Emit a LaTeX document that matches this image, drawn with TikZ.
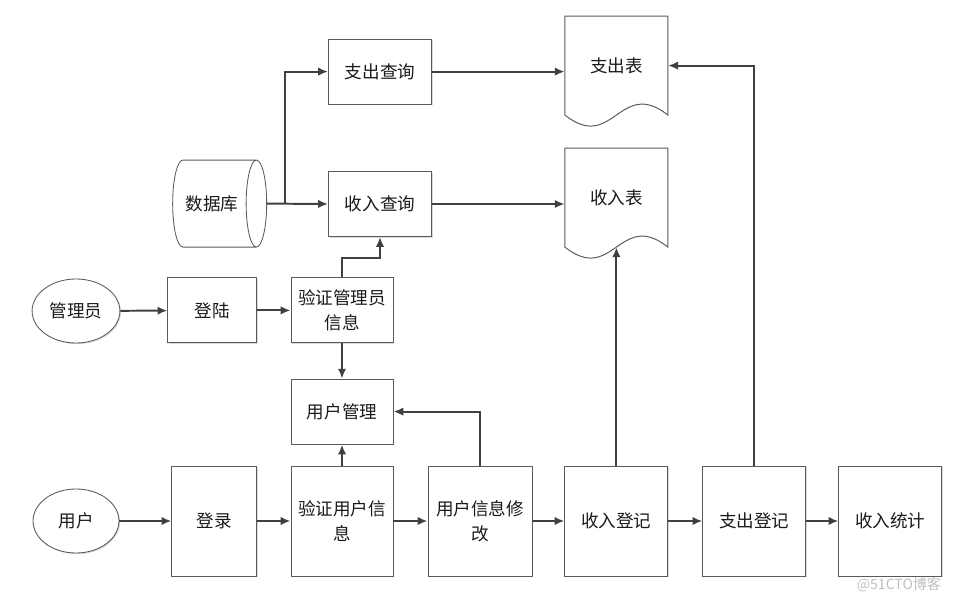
\documentclass[tikz,border=0pt]{standalone}
\usepackage{fontspec}
\setmainfont{Noto Sans CJK SC}
\usetikzlibrary{shapes.geometric,arrows.meta,shadows,calc}

\definecolor{boxgray}{HTML}{5A5A5A}
\definecolor{linegray}{HTML}{404040}
\definecolor{txt}{HTML}{1A1A1A}

\tikzset{
  box/.style={rectangle, draw=boxgray, fill=white, line width=0.7pt, text=txt,
    minimum width=2.575cm, minimum height=1.625cm, align=center,
    drop shadow={shadow xshift=0.8pt, shadow yshift=-0.8pt, opacity=0.3}},
  tallbox/.style={box, minimum height=2.75cm},
  actor/.style={ellipse, draw=boxgray, fill=white, line width=0.6pt, text=txt,
    minimum width=2.15cm, minimum height=1.6cm,
    drop shadow={shadow xshift=0.8pt, shadow yshift=-0.8pt, opacity=0.3}},
  doc/.style={rectangle, text=txt, minimum width=2.575cm, minimum height=2.475cm},
  docline/.style={draw=boxgray, fill=white, line width=0.7pt},
  flow/.style={->, draw=linegray, line width=1.4pt}
}

\begin{document}
\begin{tikzpicture}[>={Latex[length=7pt,width=6pt]}, font=\fontsize{12.5}{18}\selectfont]
\useasboundingbox (0,0) rectangle (23.9,-15.05);

% tables (document shapes)
\path
(15.41,-1.64) coordinate (zcbc)
(15.41,-4.94) coordinate (srbc);
\draw[docline] ($(zcbc)+(-1.2875,1.2375)$) -- ++(2.575,0) -- ++(0,-2.475)
  .. controls +(-1.2,0.95) and +(1.2,-0.95) .. ++(-2.575,0) -- cycle;
\draw[docline] ($(srbc)+(-1.2875,1.2375)$) -- ++(2.575,0) -- ++(0,-2.475)
  .. controls +(-1.2,0.95) and +(1.2,-0.95) .. ++(-2.575,0) -- cycle;

\path
(zcbc)  node[doc]  (zcb)  {支出表}
(srbc)  node[doc]  (srb)  {收入表}

(9.5,-1.79)   node[box]  (zccx) {支出查询}
(9.5,-5.1)    node[box]  (srcx) {收入查询}
(5.3,-5.09)   node[cylinder, draw=boxgray, fill=white, line width=0.6pt, text=txt,
                   shape aspect=0.8, minimum width=2.175cm, minimum height=2.35cm] (sjk) {数据库}

(1.9,-7.775)  node[actor] (gly)   {管理员}
(5.31,-7.76)  node[box, minimum width=2.225cm] (dl) {登陆}
(8.55,-7.76)  node[box, minimum width=2.55cm] (yzgly) {验证管理员\\信息}
(8.55,-10.29) node[box, minimum width=2.55cm] (yhgl)  {用户管理}

(1.9,-13.025)   node[actor]   (yh)   {用户}
(5.36,-13.025)  node[tallbox, minimum width=2.125cm] (dlu) {登录}
(8.55,-13.025)  node[tallbox, minimum width=2.55cm]  (yzyh) {验证用户信\\息}
(12.0,-13.025)  node[tallbox, minimum width=2.6cm]   (yhxg) {用户信息修\\改}
(15.41,-13.025) node[tallbox] (srdj) {收入登记}
(18.86,-13.025) node[tallbox] (zcdj) {支出登记}
(22.26,-13.025) node[tallbox] (srtj) {收入统计};

\coordinate (fork) at (7.125,-5.09);
\coordinate (bend) at (8.55,-6.45);

% query branch
\draw[flow] (sjk.east) -- (srcx.west);
\draw[flow] (fork) |- (zccx.west);
\draw[flow] (zccx.east) -- (zccx.east -| zcb.west);
\draw[flow] (srcx.east) -- (srcx.east -| srb.west);

% administrator
\draw[flow] (gly) -- (dl);
\draw[flow] (dl) -- (yzgly);
\draw[flow] (yzgly.north) -- (bend) -| (srcx.south);
\draw[flow] (yzgly) -- (yhgl);

% user
\draw[flow] (yh) -- (dlu);
\draw[flow] (dlu) -- (yzyh);
\draw[flow] (yzyh) -- (yhxg);
\draw[flow] (yhxg) -- (srdj);
\draw[flow] (srdj) -- (zcdj);
\draw[flow] (zcdj) -- (srtj);
\draw[flow] (yzyh) -- (yhgl);
\draw[flow] (yhxg.north) |- (yhgl.east);
\draw[flow] (srdj.north) -- (srb.south);
\draw[flow] (zcdj.north) |- (zcb.east);

\node[text=black!25, font=\fontsize{10}{12}\selectfont, anchor=east] (mark) at (23.65,-14.62) {@51CTO博客};
\end{tikzpicture}
\end{document}
